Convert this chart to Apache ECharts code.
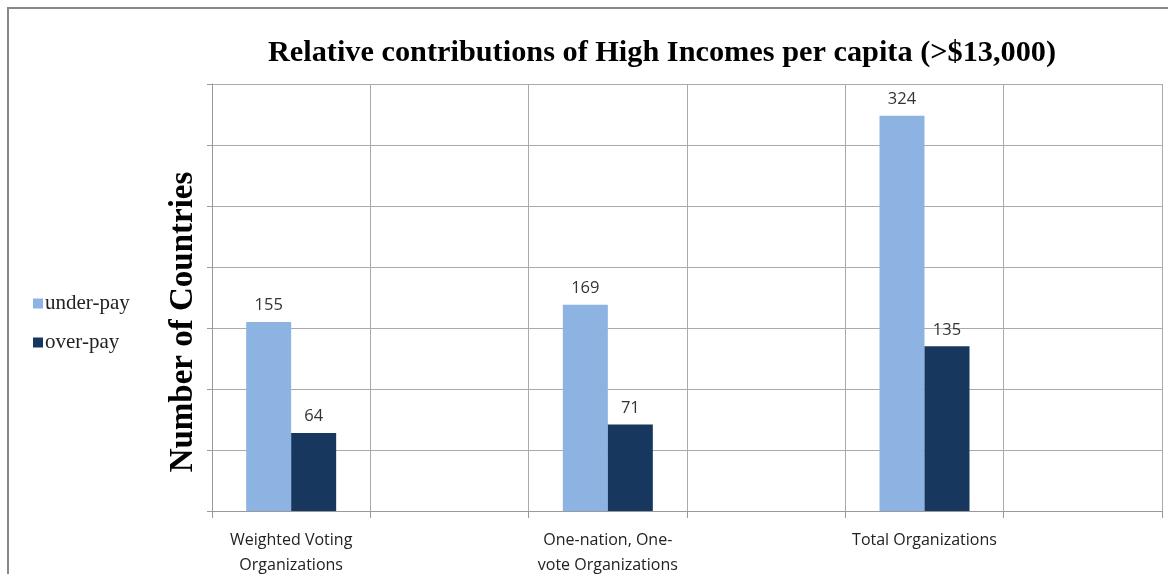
<!DOCTYPE html>
<html><head><meta charset="utf-8">
<script src="https://cdn.jsdelivr.net/npm/echarts@6/dist/echarts.min.js"></script>
<style>html,body{margin:0;padding:0;background:#fff}#c{width:1168px;height:574px}</style>
</head><body><div id="c"></div>
<script>
const categories = ['Weighted Voting\nOrganizations', '', 'One-nation, One-\nvote Organizations', '', 'Total Organizations', ''];
const underPay = [155, '-', 169, '-', 324, '-'];
const overPay = [64, '-', 71, '-', 135, '-'];
const seriesNames = ['under-pay', 'over-pay'];
const yTicks = {min: 0, max: 350, interval: 50};

const chart = echarts.init(document.getElementById('c'));
const labelStyle = {show: true, position: 'top', distance: 8, fontFamily: 'Open Sans', fontSize: 16.5, color: '#333'};
chart.setOption({
  animation: false,
  title: {
    text: 'Relative contributions of High Incomes per capita (>$13,000)',
    left: 657, textAlign: 'center', top: 33,
    textStyle: {fontFamily: 'Liberation Serif', fontWeight: 'bold', fontSize: 30.3, color: '#000'}
  },
  legend: {
    orient: 'vertical', left: 28, top: 288, itemGap: 18,
    itemWidth: 10, itemHeight: 10, icon: 'rect',
    textStyle: {fontFamily: 'Liberation Serif', fontSize: 21, color: '#222', padding: [0, 0, 0, -3]},
    data: seriesNames
  },
  grid: {left: 212, right: 6, top: 84, bottom: 63, outerBoundsMode: 'none', containLabel: false},
  xAxis: {
    type: 'category', data: categories,
    axisLine: {lineStyle: {color: '#999'}},
    axisTick: {show: true, length: 7, lineStyle: {color: '#999'}},
    splitLine: {show: true, lineStyle: {color: '#aaa'}},
    axisLabel: {interval: 0, margin: 17, fontFamily: 'Open Sans', fontSize: 16, color: '#222', lineHeight: 25}
  },
  yAxis: {
    type: 'value', min: yTicks.min, max: yTicks.max, interval: yTicks.interval,
    axisLine: {show: true, lineStyle: {color: '#999'}},
    axisTick: {show: true, length: 5, lineStyle: {color: '#999'}},
    axisLabel: {show: false},
    splitLine: {lineStyle: {color: '#aaa'}}
  },
  graphic: [
    {type: 'rect', shape: {x: 8, y: 8, width: 1300, height: 700}, style: {fill: 'none', stroke: '#888', lineWidth: 2}, silent: true},
    {type: 'text', x: 183, y: 322, rotation: Math.PI / 2,
     style: {text: 'Number of Countries', align: 'center', verticalAlign: 'middle', font: 'bold 33px "Liberation Serif"', fill: '#000'}}
  ],
  series: [
    {name: seriesNames[0], type: 'bar', data: underPay, barWidth: 45, barGap: '0%', itemStyle: {color: '#8DB3E2'}, label: labelStyle},
    {name: seriesNames[1], type: 'bar', data: overPay, barWidth: 45, itemStyle: {color: '#17375E'}, label: labelStyle}
  ]
});
</script></body></html>
